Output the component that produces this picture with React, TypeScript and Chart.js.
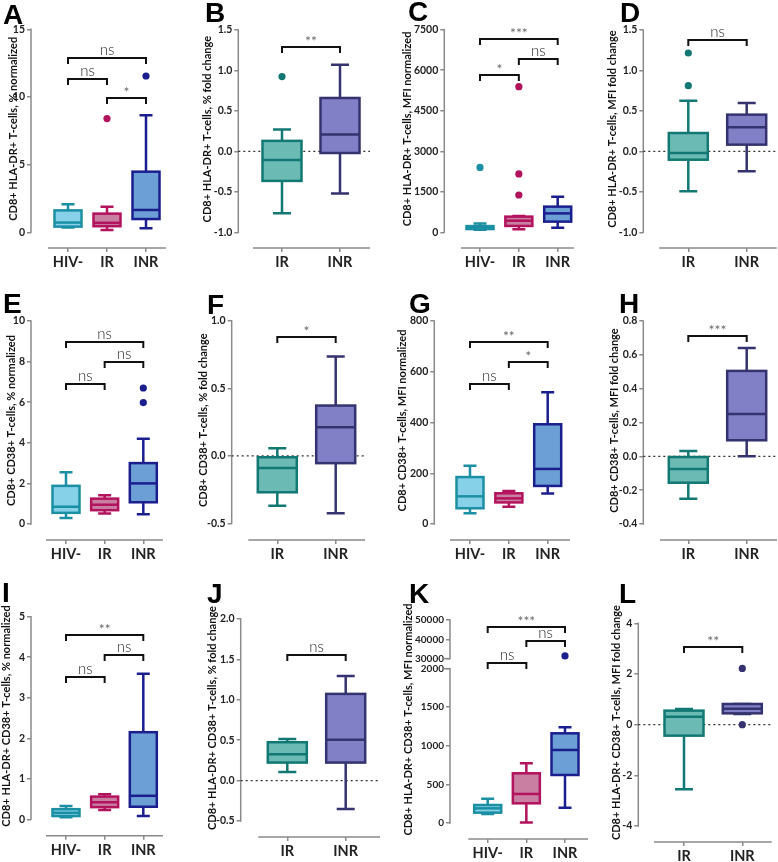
import React, { useEffect, useRef } from "react";
import { Chart, registerables } from "chart.js";

Chart.register(...registerables);

// ---------- categories ----------
const CATS3 = ["HIV-", "IR", "INR"];
const CATS2 = ["IR", "INR"];

// ---------- data: [min whisker, Q1, median, Q3, max whisker] per group ----------
const A_BOX = [[0.35, 0.42, 0.72, 1.62, 2.08], [0.17, 0.45, 0.7, 1.38, 1.88], [0.3, 0.98, 1.65, 4.48, 8.65]];
const A_OUT = [[], [8.4], [11.55]];
const A_TICKS = [0, 5, 10, 15];
const A_SIG: [number, number, number, string][] = [[0, 2, 12.9, "ns"], [0, 1, 11.3, "ns"], [1, 2, 9.9, "*"]];

const B_BOX = [[-0.765, -0.365, -0.105, 0.13, 0.27], [-0.52, -0.02, 0.21, 0.66, 1.07]];
const B_OUT = [[0.925], []];
const B_TICKS = [-1.0, -0.5, 0.0, 0.5, 1.0, 1.5];
const B_SIG: [number, number, number, string][] = [[0, 1, 1.29, "**"]];

const C_BOX = [[90, 120, 170, 230, 330], [110, 235, 430, 580, 600], [170, 395, 700, 950, 1320]];
const C_OUT = [[2400], [5390, 2160, 1380], []];
const C_TICKS = [0, 1500, 3000, 4500, 6000, 7500];
const C_SIG: [number, number, number, string][] = [[0, 2, 7140, "***"], [1, 2, 6430, "ns"], [0, 1, 5820, "*"]];

const D_BOX = [[-0.494, -0.103, -0.02, 0.227, 0.627], [-0.247, 0.083, 0.297, 0.454, 0.598]];
const D_OUT = [[1.216, 0.812], []];
const D_TICKS = [-1.0, -0.5, 0.0, 0.5, 1.0, 1.5];
const D_SIG: [number, number, number, string][] = [[0, 1, 1.38, "ns"]];

const E_BOX = [[0.3, 0.55, 0.85, 1.88, 2.55], [0.52, 0.68, 0.95, 1.25, 1.42], [0.48, 1.07, 2.0, 3.0, 4.2]];
const E_OUT = [[], [], [5.98, 6.7]];
const E_TICKS = [0, 2, 4, 6, 8, 10];
const E_SIG: [number, number, number, string][] = [[0, 2, 8.95, "ns"], [1, 2, 8.0, "ns"], [0, 1, 6.9, "ns"]];

const F_BOX = [[-0.37, -0.27, -0.09, -0.01, 0.057], [-0.425, -0.054, 0.212, 0.373, 0.736]];
const F_OUT = [[], []];
const F_TICKS = [-0.5, 0.0, 0.5, 1.0];
const F_SIG: [number, number, number, string][] = [[0, 1, 0.879, "*"]];

const G_BOX = [[42, 62, 109, 185, 230], [68, 85, 101, 121, 130], [120, 150, 217, 393, 519]];
const G_OUT = [[], [], []];
const G_TICKS = [0, 200, 400, 600, 800];
const G_SIG: [number, number, number, string][] = [[0, 2, 719, "**"], [1, 2, 637, "*"], [0, 1, 553, "ns"]];

const H_BOX = [[-0.25, -0.156, -0.075, -0.004, 0.032], [0.0, 0.095, 0.25, 0.505, 0.641]];
const H_OUT = [[], []];
const H_TICKS = [-0.4, -0.2, 0.0, 0.2, 0.4, 0.6, 0.8];
const H_SIG: [number, number, number, string][] = [[0, 1, 0.713, "***"]];

const I_BOX = [[0.05, 0.08, 0.16, 0.25, 0.33], [0.23, 0.3, 0.42, 0.56, 0.62], [0.08, 0.31, 0.58, 2.15, 3.59]];
const I_OUT = [[], [], []];
const I_TICKS = [0, 1, 2, 3, 4, 5];
const I_SIG: [number, number, number, string][] = [[0, 2, 4.56, "**"], [1, 2, 4.05, "ns"], [0, 1, 3.52, "ns"]];

const J_BOX = [[0.107, 0.223, 0.326, 0.475, 0.516], [-0.35, 0.223, 0.507, 1.073, 1.295]];
const J_OUT = [[], []];
const J_TICKS = [-0.5, 0.0, 0.5, 1.0, 1.5, 2.0];
const J_SIG: [number, number, number, string][] = [[0, 1, 1.555, "ns"]];

const K_BOX = [[117, 134, 190, 233, 315], [5, 255, 376, 644, 773], [199, 622, 946, 1162, 1240]];
const K_OUT = [[], [], [31380]];
const K_TICKS = [0, 500, 1000, 1500, 2000, 30000, 40000, 50000];
const K_SIG: [number, number, number, string][] = [[0, 2, 46550, "***"], [1, 2, 39140, "ns"], [0, 1, 17000, "ns"]];

const L_BOX = [[-2.55, -0.434, 0.316, 0.553, 0.618], [0.42, 0.447, 0.63, 0.816, 0.816]];
const L_OUT = [[], [2.22, 0.0]];
const L_TICKS = [-4, -2, 0, 2, 4];
const L_SIG: [number, number, number, string][] = [[0, 1, 3.08, "**"]];

// ---------- styles ----------
const COL3 = [
  { fill: "#86d0e8", stroke: "#1b8fa3" },
  { fill: "#c97fa2", stroke: "#b3125d" },
  { fill: "#6b9fd6", stroke: "#1b1f8e" },
];
const COL2 = [
  { fill: "#6cbab4", stroke: "#127873" },
  { fill: "#8180c6", stroke: "#35336f" },
];
const AXIS = "#8a8a8a";
const FONT = "Lato, 'Open Sans', sans-serif";

// broken axis transform for panel K
const kTf = (v: number) => {
  if (v <= 2000) return v;
  if (v < 30000) return 2000 + ((v - 2000) / 28000) * 130;
  return 2130 + (v - 30000) * 0.025;
};

type Lay = {
  L: number; T: number; axisX: number; yTop: number; yBot: number; xAxisY: number;
  cats: number[]; xl: number; xr: number; titleX: number; lx: number; lb: number;
};
type Panel = {
  id: string; cats: string[]; box: number[][]; out: number[][]; ticks: number[];
  sig: [number, number, number, string][]; dec: number; title: string; zero: boolean;
  colors: { fill: string; stroke: string }[]; lay: Lay; tf?: (v: number) => number; segs?: number[][];
};

const PANELS: Panel[] = [
  { id: "A", cats: CATS3, box: A_BOX, out: A_OUT, ticks: A_TICKS, sig: A_SIG, dec: 0, zero: false, colors: COL3,
    title: "CD8+ HLA-DR+ T-cells, % normalized",
    lay: { L: 0, T: 0, axisX: 31, yTop: 29.3, yBot: 232.3, xAxisY: 248, cats: [68, 107, 146], xl: 48, xr: 166, titleX: 13.3, lx: 3, lb: 25 } },
  { id: "B", cats: CATS2, box: B_BOX, out: B_OUT, ticks: B_TICKS, sig: B_SIG, dec: 1, zero: true, colors: COL2,
    title: "CD8+ HLA-DR+ T-cells, % fold change",
    lay: { L: 190, T: 0, axisX: 238.3, yTop: 30, yBot: 232.3, xAxisY: 248, cats: [282, 340], xl: 253, xr: 370, titleX: 207.5, lx: 205, lb: 23 } },
  { id: "C", cats: CATS3, box: C_BOX, out: C_OUT, ticks: C_TICKS, sig: C_SIG, dec: 0, zero: false, colors: COL3,
    title: "CD8+ HLA-DR+ T-cells, MFI normalized",
    lay: { L: 385, T: 0, axisX: 444.3, yTop: 29.7, yBot: 232.3, xAxisY: 248, cats: [480, 518.3, 557.7], xl: 461, xr: 574, titleX: 407.5, lx: 408, lb: 22 } },
  { id: "D", cats: CATS2, box: D_BOX, out: D_OUT, ticks: D_TICKS, sig: D_SIG, dec: 1, zero: true, colors: COL2,
    title: "CD8+ HLA-DR+ T-cells, MFI fold change",
    lay: { L: 580, T: 0, axisX: 643.3, yTop: 30, yBot: 232.3, xAxisY: 248, cats: [688.3, 746.7], xl: 659.3, xr: 776.7, titleX: 612, lx: 620, lb: 23 } },
  { id: "E", cats: CATS3, box: E_BOX, out: E_OUT, ticks: E_TICKS, sig: E_SIG, dec: 0, zero: false, colors: COL3,
    title: "CD8+ CD38+ T-cells, % normalized",
    lay: { L: 0, T: 285, axisX: 31, yTop: 321, yBot: 524, xAxisY: 540, cats: [66, 104.3, 143.3], xl: 46, xr: 163, titleX: 11, lx: 3, lb: 314 } },
  { id: "F", cats: CATS2, box: F_BOX, out: F_OUT, ticks: F_TICKS, sig: F_SIG, dec: 1, zero: true, colors: COL2,
    title: "CD8+ CD38+ T-cells, % fold change",
    lay: { L: 190, T: 285, axisX: 231.7, yTop: 321, yBot: 523.3, xAxisY: 540, cats: [277.3, 335.7], xl: 248.3, xr: 365, titleX: 203.5, lx: 207, lb: 315 } },
  { id: "G", cats: CATS3, box: G_BOX, out: G_OUT, ticks: G_TICKS, sig: G_SIG, dec: 0, zero: false, colors: COL3,
    title: "CD8+ CD38+ T-cells, MFI normalized",
    lay: { L: 385, T: 285, axisX: 434.3, yTop: 321, yBot: 524, xAxisY: 540, cats: [470, 508.3, 547.7], xl: 450, xr: 570, titleX: 402.5, lx: 409, lb: 314 } },
  { id: "H", cats: CATS2, box: H_BOX, out: H_OUT, ticks: H_TICKS, sig: H_SIG, dec: 1, zero: true, colors: COL2,
    title: "CD8+ CD38+ T-cells, MFI fold change",
    lay: { L: 580, T: 285, axisX: 643.3, yTop: 321, yBot: 524, xAxisY: 540, cats: [688.3, 746.7], xl: 660, xr: 777, titleX: 614, lx: 619, lb: 314 } },
  { id: "I", cats: CATS3, box: I_BOX, out: I_OUT, ticks: I_TICKS, sig: I_SIG, dec: 0, zero: false, colors: COL3,
    title: "CD8+ HLA-DR+ CD38+ T-cells, % normalized",
    lay: { L: 0, T: 570, axisX: 31, yTop: 616.7, yBot: 819.3, xAxisY: 835.7, cats: [66, 104.3, 143.3], xl: 46, xr: 163, titleX: 6, lx: 2, lb: 603 } },
  { id: "J", cats: CATS2, box: J_BOX, out: J_OUT, ticks: J_TICKS, sig: J_SIG, dec: 1, zero: true, colors: COL2,
    title: "CD8+ HLA-DR+ CD38+ T-cells, % fold change",
    lay: { L: 190, T: 570, axisX: 240.7, yTop: 619, yBot: 821, xAxisY: 837, cats: [287.3, 345.7], xl: 258.3, xr: 380, titleX: 212.5, lx: 207, lb: 604 } },
  { id: "K", cats: CATS3, box: K_BOX, out: K_OUT, ticks: K_TICKS, sig: K_SIG, dec: 0, zero: false, colors: COL3,
    title: "CD8+ HLA-DR+ CD38+ T-cells, MFI normalized", tf: kTf, segs: [[0, 2000], [30000, 50000]],
    lay: { L: 385, T: 570, axisX: 450, yTop: 620, yBot: 823, xAxisY: 839, cats: [487.7, 526, 565], xl: 468.3, xr: 588, titleX: 408, lx: 409, lb: 604 } },
  { id: "L", cats: CATS2, box: L_BOX, out: L_OUT, ticks: L_TICKS, sig: L_SIG, dec: 0, zero: true, colors: COL2,
    title: "CD8+ HLA-DR+ CD38+ T-cells, MFI fold change",
    lay: { L: 580, T: 570, axisX: 638.3, yTop: 623.3, yBot: 826, xAxisY: 842, cats: [684, 742.3], xl: 654, xr: 771.7, titleX: 616, lx: 619, lb: 604 } },
];

const ident = (v: number) => v;

function makePlugin(p: Panel) {
  const tf = p.tf || ident;
  const lay = p.lay;
  return {
    id: "boxes" + p.id,
    beforeDatasetsDraw(chart: any) {
      const { ctx, chartArea } = chart;
      const xs = chart.scales.x, ys = chart.scales.y;
      const Y = (v: number) => ys.getPixelForValue(tf(v));
      ctx.save();
      ctx.strokeStyle = AXIS;
      ctx.lineWidth = 1.5;
      const segs = p.segs || [[p.ticks[0], p.ticks[p.ticks.length - 1]]];
      for (const [a, b] of segs) {
        ctx.beginPath();
        ctx.moveTo(chartArea.left, Y(a) + 0.75);
        ctx.lineTo(chartArea.left, Y(b) - 0.75);
        ctx.stroke();
      }
      if (p.segs) {
        for (const v of [2000, 30000]) {
          ctx.beginPath();
          ctx.moveTo(chartArea.left - 8, Y(v));
          ctx.lineTo(chartArea.left, Y(v));
          ctx.stroke();
        }
      }
      ctx.beginPath();
      ctx.moveTo(lay.xl - lay.L, chartArea.bottom);
      ctx.lineTo(lay.xr - lay.L, chartArea.bottom);
      ctx.stroke();
      if (p.zero) {
        ctx.save();
        ctx.setLineDash([2, 3]);
        ctx.strokeStyle = "#333";
        ctx.lineWidth = 1.3;
        ctx.beginPath();
        ctx.moveTo(chartArea.left, Y(0));
        ctx.lineTo(chartArea.right, Y(0));
        ctx.stroke();
        ctx.restore();
      }
      const n = p.cats.length;
      const hw = n === 3 ? 13.5 : 19.5;
      const cw = n === 3 ? 6.5 : 9;
      p.box.forEach((b, i) => {
        const x = xs.getPixelForValue(i);
        const col = p.colors[i];
        ctx.strokeStyle = col.stroke;
        ctx.lineWidth = 2.5;
        ctx.beginPath();
        ctx.moveTo(x, Y(b[0])); ctx.lineTo(x, Y(b[1]));
        ctx.moveTo(x, Y(b[3])); ctx.lineTo(x, Y(b[4]));
        ctx.moveTo(x - cw, Y(b[0])); ctx.lineTo(x + cw, Y(b[0]));
        ctx.moveTo(x - cw, Y(b[4])); ctx.lineTo(x + cw, Y(b[4]));
        ctx.stroke();
        const top = Y(b[3]), bot = Y(b[1]);
        ctx.fillStyle = col.fill;
        ctx.fillRect(x - hw, top, 2 * hw, bot - top);
        ctx.strokeRect(x - hw, top, 2 * hw, bot - top);
        ctx.beginPath();
        ctx.moveTo(x - hw, Y(b[2]));
        ctx.lineTo(x + hw, Y(b[2]));
        ctx.stroke();
      });
      ctx.restore();
    },
    afterDraw(chart: any) {
      const { ctx, chartArea } = chart;
      const xs = chart.scales.x, ys = chart.scales.y;
      const Y = (v: number) => ys.getPixelForValue(tf(v));
      ctx.save();
      p.sig.forEach(([a, b, y, label]) => {
        const x1 = xs.getPixelForValue(a), x2 = xs.getPixelForValue(b), yy = Math.round(Y(y));
        ctx.strokeStyle = "#111";
        ctx.lineWidth = 2;
        ctx.beginPath();
        ctx.moveTo(x1, yy + 6);
        ctx.lineTo(x1, yy);
        ctx.lineTo(x2, yy);
        ctx.lineTo(x2, yy + 6);
        ctx.stroke();
        const ns = label === "ns";
        ctx.fillStyle = ns ? "#2a2a2a" : "#6a6a6a";
        ctx.font = ns ? `300 15px ${FONT}` : `14px ${FONT}`;
        ctx.textAlign = "center";
        ctx.textBaseline = "alphabetic";
        ctx.fillText(label, (x1 + x2) / 2, ns ? yy - 3 : yy - 1);
      });
      ctx.translate(lay.titleX - lay.L, (chartArea.top + Y(p.ticks[0])) / 2 - 2);
      ctx.rotate(-Math.PI / 2);
      ctx.font = `bold 11px ${FONT}`;
      ctx.fillStyle = "#111";
      ctx.textAlign = "center";
      ctx.textBaseline = "middle";
      ctx.fillText(p.title, 0, 0);
      ctx.restore();
    },
  };
}

function PanelChart({ p }: { p: Panel }) {
  const ref = useRef<HTMLCanvasElement>(null);
  const lay = p.lay;
  const W = Math.ceil(lay.xr - lay.L + 8);
  const H = Math.ceil(lay.xAxisY - lay.T + 34);
  useEffect(() => {
    const tf = p.tf || ident;
    const tmin = tf(p.ticks[0]);
    const tmax = tf(p.ticks[p.ticks.length - 1]);
    const ppu = (lay.yBot - lay.yTop) / (tmax - tmin);
    const extMin = tmin - (lay.xAxisY - lay.yBot) / ppu;
    const n = p.cats.length;
    const sp = (lay.cats[n - 1] - lay.cats[0]) / (n - 1);
    const xmin = -(lay.cats[0] - lay.axisX) / sp;
    const xmax = n - 1 + (lay.xr - lay.cats[n - 1]) / sp;
    const pts: { x: number; y: number }[] = [];
    const pcols: string[] = [];
    p.out.forEach((arr, i) => arr.forEach((v) => { pts.push({ x: i, y: tf(v) }); pcols.push(p.colors[i].stroke); }));
    const catLabels = p.cats.slice();
    const tickVals = p.ticks.map((v) => tf(v));
    const tickLabels = p.ticks.map((v) => v.toFixed(p.dec));
    const chart = new Chart(ref.current as HTMLCanvasElement, {
      type: "scatter",
      data: {
        datasets: [{
          data: pts,
          pointRadius: 3.6,
          pointHoverRadius: 3.6,
          pointBackgroundColor: pcols,
          pointBorderWidth: 0,
          borderColor: "rgba(0,0,0,0)",
        }],
      },
      options: {
        animation: false,
        responsive: false,
        devicePixelRatio: 1,
        events: [],
        layout: { padding: { left: 0, top: lay.yTop - lay.T, right: W - (lay.xr - lay.L), bottom: H - 30 - (lay.xAxisY - lay.T) } },
        plugins: { legend: { display: false }, tooltip: { enabled: false } },
        scales: {
          x: {
            type: "linear", min: xmin, max: xmax,
            afterBuildTicks: (s: any) => { s.ticks = catLabels.map((_, i) => ({ value: i })); },
            afterFit: (s: any) => { s.height = 30; },
            grid: { drawOnChartArea: false, drawTicks: true, tickLength: 4, color: AXIS, lineWidth: 1.5 },
            border: { display: false },
            ticks: {
              callback: (_v: any, i: number) => catLabels[i],
              font: { family: FONT, weight: "bold", size: 14.5 }, color: "#222", padding: 2,
              autoSkip: false, maxRotation: 0, minRotation: 0,
            },
          },
          y: {
            type: "linear", min: extMin, max: tmax,
            afterBuildTicks: (s: any) => { s.ticks = tickVals.map((v) => ({ value: v })); },
            afterFit: (s: any) => { s.width = lay.axisX - lay.L; },
            grid: { drawOnChartArea: false, drawTicks: true, tickLength: 4, color: AXIS, lineWidth: 1.5 },
            border: { display: false },
            ticks: {
              callback: (_v: any, i: number) => tickLabels[i],
              font: { family: FONT, weight: "bold", size: p.segs ? 10 : 10.5 }, color: "#222", padding: 2, autoSkip: false,
            },
          },
        },
      } as any,
      plugins: [makePlugin(p) as any],
    });
    return () => chart.destroy();
  }, []);
  return (
    <canvas ref={ref} width={W} height={H}
      style={{ position: "absolute", left: lay.L, top: lay.T, width: W, height: H }} />
  );
}

export default function App() {
  return (
    <div style={{ position: "absolute", left: 0, top: 0, width: 778, height: 862, overflow: "hidden", background: "#fff" }}>
      {PANELS.map((p) => <PanelChart key={p.id} p={p} />)}
      {PANELS.map((p) => (
        <div key={"l" + p.id} style={{
          position: "absolute", left: p.lay.lx, top: p.lay.lb - 24,
          fontFamily: "'Liberation Sans', Arial, sans-serif", fontWeight: "bold", fontSize: 28, lineHeight: "28px", color: "#000",
        }}>{p.id}</div>
      ))}
    </div>
  );
}
